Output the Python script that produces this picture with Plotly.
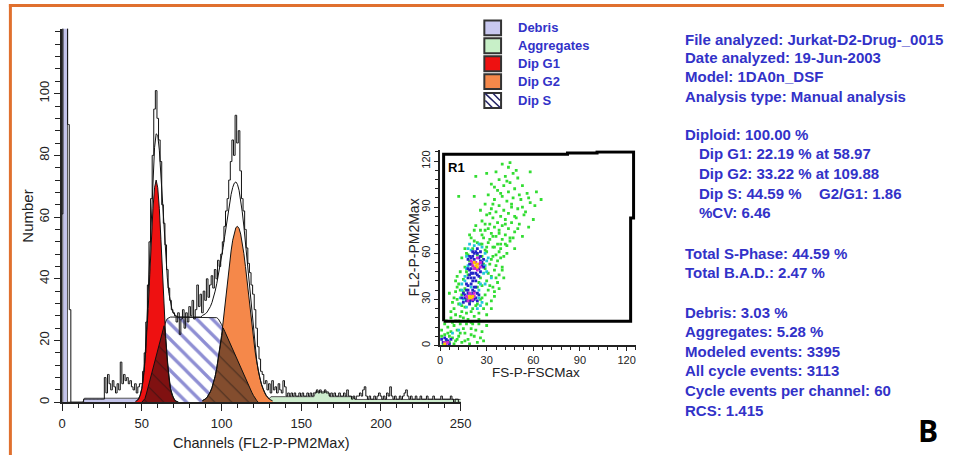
import plotly.graph_objects as go

W, H = 955, 457
def px(x): return x / W
def py(y): return 1 - y / H

# ---------------- histogram data (counts per channel 0..250) ----------------
channels = list(range(0, 251))
counts = [
    61, 140, 140, 140, 90, 30, 0, 0, 0, 0,
    0, 0, 0, 0, 1, 1, 1, 1, 1, 1,
    1, 1, 1, 1, 1, 1, 1, 8, 3, 9,
    6, 4, 7, 5, 3, 6, 4, 13, 6, 9,
    7, 8, 6, 7, 5, 4, 6, 3, 5, 6,
    6, 10, 16, 26, 38, 52, 66, 80, 95, 101,
    92, 85, 78, 64, 58, 51, 43, 37, 33, 30,
    29, 28, 26, 29, 22, 27, 30, 24, 29, 26,
    31, 28, 33, 27, 30, 38, 31, 35, 29, 36,
    33, 40, 34, 38, 41, 37, 43, 40, 46, 44,
    48, 52, 57, 62, 66, 72, 78, 85, 80, 93,
    84, 88, 75, 66, 62, 56, 50, 45, 42, 38,
    35, 30, 24, 18, 14, 10, 9, 6, 7, 4,
    6, 3, 7, 4, 5, 3, 6, 4, 3, 7,
    5, 2, 3, 2, 3, 2, 3, 2, 2, 3,
    2, 3, 2, 2, 3, 2, 3, 2, 3, 3,
    4, 3, 4, 3, 3, 4, 3, 3, 2, 3,
    2, 3, 2, 2, 3, 2, 2, 3, 2, 4,
    2, 2, 1, 2, 1, 2, 2, 3, 2, 4,
    5, 2, 1, 2, 1, 1, 2, 1, 2, 3,
    2, 1, 2, 1, 3, 2, 5, 2, 1, 2,
    1, 1, 2, 1, 2, 3, 4, 2, 1, 2,
    1, 1, 2, 1, 1, 2, 1, 1, 1, 2,
    1, 1, 1, 2, 1, 1, 1, 1, 2, 1,
    1, 1, 1, 1, 2, 1, 0, 1, 1, 0, 0,
]

# ---------------- model components ----------------
g1_ch = list(range(46, 74))
g1_val = [0.3, 0.5, 1.1, 2.3, 4.4, 7.8, 13.2, 20.7, 30.3, 41.4, 52.7, 62.7, 69.5, 72,
          69.5, 62.7, 52.7, 41.4, 30.3, 20.7, 13.2, 7.8, 4.4, 2.3, 1.1, 0.5, 0.2, 0]

s_ch = list(range(50, 124))
s_val = [0, 0.5, 1.2, 3, 5, 7, 9, 11, 13, 15, 17, 19, 21, 23, 24.8, 26.2, 27.1, 27.5,
         27.6, 27.6, 27.6, 27.6, 27.6, 27.6, 27.6, 27.6, 27.6, 27.6,
         27.6, 27.6, 27.6, 27.6, 27.6, 27.6, 27.6, 27.6, 27.6, 27.6,
         27.6, 27.6, 27.6, 27.6, 27.6, 27.6, 27.6, 27.6, 27.6,
         27.4, 27, 26.2, 25.2, 24.1, 23, 21.8, 20.7, 19.5, 18.3, 17.1, 16, 14.8,
         13.6, 12.4, 11.2, 10, 8.9, 7.7, 6.5, 5.4, 4.3, 3.2, 2.2, 1.3, 0.6, 0]

g2_ch = list(range(88, 133))
g2_val = [0.5, 0.75, 1.1, 1.65, 2.4, 3.4, 4.7, 6.3, 8.4, 11, 14.1, 17.6, 21.6,
          26, 30.8, 35.6, 40.5, 45, 49, 52.5, 55, 56.6, 57, 56.3, 54.5, 51.7, 48.2,
          44, 39.3, 34.5, 29.7, 25, 20.6, 16.7, 13.3, 10.3, 7.9, 5.9, 4.4, 3.1, 2.2,
          1.5, 1.0, 0.7, 0.45]

debris_x = [0.4, 0.4, 3.4, 3.4, 13, 14, 48, 50, 52]
debris_y = [0, 140, 140, 0, 0, 1.3, 1.3, 0.8, 0]

aggr_x = [128, 131, 158, 159, 167, 168, 182, 184, 250]
aggr_y = [0, 1.8, 1.8, 3.4, 3.4, 1.8, 1.8, 0.9, 0.9]

marker_ch = [37.5, 59, 109]
y_ticks = [0, 20, 40, 60, 80, 100]

assert len(counts) == len(channels)
assert len(g1_val) == len(g1_ch) and len(s_val) == len(s_ch) and len(g2_val) == len(g2_ch)

g1 = dict(zip(g1_ch, g1_val))
s = dict(zip(s_ch, s_val))
g2 = dict(zip(g2_ch, g2_val))
ov1_x = [c for c in s_ch if c in g1]
ov1_y = [min(g1[c], s[c]) for c in ov1_x]
ov2_x = [c for c in s_ch if c in g2]
ov2_y = [min(g2[c], s[c]) for c in ov2_x]
fit_x = list(range(47, 131))
fit_y = [g1.get(c, 0) + s.get(c, 0) + g2.get(c, 0) for c in fit_x]

# ---------------- inset scatter (FS vs FL2) ----------------
green_pts = [
    (40,118),(44,116),(36,113),(47,112),(42,110),(50,109),(38,108),(45,106),(33,105),(41,104),
    (53,104),(48,102),(37,101),(44,100),(56,99),(31,98),(40,97),(47,96),(35,95),(52,95),
    (43,94),(58,93),(29,92),(38,91),(46,90),(33,89),(50,89),(41,88),(36,87),(55,87),
    (44,86),(30,85),(39,84),(48,84),(34,83),(42,82),(60,82),(27,81),(37,80),(46,80),
    (32,79),(51,79),(40,78),(35,77),(44,76),(29,75),(38,75),(48,74),(33,73),(42,72),
    (36,71),(53,71),(28,70),(40,69),(45,68),(31,67),(37,66),(26,66),(43,65),(34,64),
    (39,63),(48,63),(29,62),(23,110),(62,100),(12,97),(58,113),(65,95),(57,77),(22,97),
    (49,83),(54,85),(30,112),(35,103),(26,88),
    (46,92),(51,98),(39,99),(43,107),(49,114),(45,119),(53,90),(57,96),(61,91),(34,92),
    (32,86),(42,79),(50,76),(47,70),(38,73),
    (12,16),(15,18),(10,20),(18,17),(22,19),(14,22),(20,22),(25,21),(9,24),(16,25),
    (28,24),(12,27),(23,26),(19,28),(30,27),(11,30),(26,30),(33,29),(14,33),(29,33),
    (35,32),(10,35),(31,36),(16,37),(34,38),(27,39),(12,40),(37,41),(30,42),(15,43),
    (33,45),(18,46),(38,46),(13,48),(35,49),(29,50),(16,51),(40,51),(32,53),(19,55),
    (37,55),(14,57),(34,58),(41,58),(17,60),(30,61),(38,61),(21,63),(35,64),(42,66),
    (24,67),(32,69),(20,70),(45,70),(27,72),(22,75),(17,30),(13,36),(35,35),(36,52),
    (31,47),(27,58),(8,28),(7,18),(24,38),(39,57),(11,45),(26,44),
    (13,19),(17,21),(21,24),(24,27),(27,31),(15,35),(32,39),(25,41),(36,44),(17,48),
    (28,53),(33,56),(18,59),(24,59),(36,59),(27,66),(30,64),(16,63),(39,66),(22,68),
    (34,71),(26,75),(31,76),(23,78),(29,79),(19,72),(43,60),(40,49),(11,38),(9,31),
    (14,26),(20,15),(25,17),(30,20),(33,24),(7,22),(6,34),(10,42),(38,37),(41,44),
    (2,1),(4,3),(6,2),(8,5),(3,7),(10,3),(12,6),(7,9),(14,2),(5,12),
    (16,8),(9,13),(18,4),(11,10),(13,14),(20,11),(15,11),(22,6),(24,2),(17,14),
    (8,15),(19,1),(26,5),(6,6),(1,10),(3,14),(21,14),(28,3),
    (1,6),(5,8),(9,1),(11,4),(13,8),(16,3),(20,7),(23,10),(27,9),(30,13),
    (25,14),(10,16),(4,16),
]
cyan_pts = [
    (17,25),(24,24),(15,30),(27,28),(20,38),(29,40),(16,45),(28,47),(22,50),(31,57),
    (20,62),(27,64),(18,52),(33,44),(12,10),(8,8),(25,36),(14,40),(29,60),(19,66),
    (13,31),(25,31),(14,36),(26,40),(17,50),(29,52),(30,48),(22,65),(25,66),(17,58),
    (13,27),(26,26),(16,42),(30,55),(18,63),
]
blue_pts = [
    (15,28),(17,29),(21,29),(23,31),(16,33),(22,35),(18,36),(24,34),(20,40),(23,42),
    (18,44),(25,45),(21,47),(26,48),(19,49),(23,51),(27,52),(20,53),(25,57),(21,58),
    (28,56),(22,60),(26,61),(18,56),(24,63),(17,40),(20,44),(22,38),(19,27),(26,55),
    (16,31),(20,30),(22,30),(18,34),(21,34),(19,29),(17,36),(21,36),(23,38),(19,46),
    (22,44),(24,46),(20,50),(22,56),(25,50),(27,54),(23,61),(21,61),(19,53),
    (15,34),(24,29),(14,31),(25,33),(18,39),(21,42),(20,47),(23,47),(18,50),(28,51),
    (19,58),(26,58),(24,60),(20,57),
    (2,2),(4,4),(6,1),(3,5),(5,3),(7,4),(1,4),
]
magenta_pts = [
    (18,31),(20,33),(21,30),(17,32),(22,32),(19,34),(18,29),(22,34),
    (21,52),(23,54),(25,53),(22,50),(24,49),(26,51),(20,55),(24,57),(23,50),(26,54),(21,54),
    (3,2),(5,2),(4,1),
]
yellow_pts = [(19,31),(20,31),(21,32),(19,32),(23,52),(24,53),(22,54),(24,51),(3,1)]

gate_x = [2.3, 2.3, 82, 82, 101, 101, 124.5, 124.5, 122.6, 122.6, 2.3]
gate_y = [15.8, 124.4, 124.4, 125.2, 125.2, 126, 126, 83, 83, 15.8, 15.8]

fig = go.Figure()
LW = 1.0
fig.add_trace(go.Scatter(x=debris_x, y=debris_y, mode='lines', fill='tozeroy',
                         fillcolor='#c4c4ea', line=dict(color='#555555', width=1)))
fig.add_trace(go.Scatter(x=aggr_x, y=aggr_y, mode='lines', fill='tozeroy',
                         fillcolor='#cdeccd', line=dict(color='#555555', width=1)))
fig.add_trace(go.Scatter(x=s_ch, y=s_val, mode='lines', fill='tozeroy',
                         fillpattern=dict(shape='\\', fgcolor='#1e1ea8', bgcolor='white',
                                          size=11, solidity=0.3),
                         line=dict(color='#222222', width=LW)))
fig.add_trace(go.Scatter(x=g1_ch, y=g1_val, mode='lines', fill='tozeroy',
                         fillcolor='#ee1111', line=dict(color='#111111', width=LW)))
fig.add_trace(go.Scatter(x=g2_ch, y=g2_val, mode='lines', fill='tozeroy',
                         fillcolor='#f5884a', line=dict(color='#111111', width=LW)))
for ox, oy in ((ov1_x, ov1_y), (ov2_x, ov2_y)):
    fig.add_trace(go.Scatter(x=ox, y=oy, mode='lines', fill='tozeroy',
                             fillpattern=dict(shape='\\', fgcolor='#111111', size=12, solidity=0.1),
                             line=dict(color='#111111', width=LW)))
fig.add_trace(go.Scatter(x=fit_x, y=fit_y, mode='lines', line=dict(color='#111111', width=1)))
fig.add_trace(go.Scatter(x=channels, y=counts, mode='lines', line_shape='hvh',
                         line=dict(color='#111111', width=1)))
fig.add_trace(go.Scatter(x=marker_ch, y=[-3.6] * len(marker_ch), mode='markers', cliponaxis=False,
                         marker=dict(symbol='triangle-up', size=15, color='black')))

for pts, col in ((green_pts, '#33dd33'), (cyan_pts, '#22c8d8'), (blue_pts, '#2424c8'),
                 (magenta_pts, '#d02ad0'), (yellow_pts, '#ffc800')):
    fig.add_trace(go.Scatter(x=[p[0] for p in pts], y=[p[1] for p in pts], mode='markers',
                             xaxis='x2', yaxis='y2',
                             marker=dict(symbol='square', size=2.8, color=col, line=dict(width=0))))
fig.add_trace(go.Scatter(x=gate_x, y=gate_y, mode='lines', xaxis='x2', yaxis='y2',
                         line=dict(color='black', width=3)))

tickfont = dict(family='Liberation Sans', size=13, color='#222222')
axcol = '#222222'
fig.update_layout(
    width=W, height=H, margin=dict(l=0, r=0, t=0, b=0),
    paper_bgcolor='white', plot_bgcolor='rgba(0,0,0,0)', showlegend=False,
    xaxis=dict(domain=[px(59), px(464)], range=[0, 250], anchor='y',
               showline=True, linecolor=axcol, linewidth=1.5, showgrid=False, zeroline=False,
               ticks='outside', ticklen=7, tickwidth=1.3, tickcolor=axcol, tick0=0, dtick=50,
               minor=dict(dtick=10, ticks='outside', ticklen=4, tickwidth=1.2, tickcolor=axcol),
               tickfont=tickfont, ticklabelstandoff=1),
    yaxis=dict(domain=[py(404), py(29)], range=[0, 121], anchor='x',
               showline=True, linecolor=axcol, linewidth=1.5, showgrid=False, zeroline=False,
               ticks='outside', ticklen=6, tickwidth=1.3, tickcolor=axcol,
               tickmode='array', tickvals=y_ticks,
               minor=dict(dtick=4, tick0=0, ticks='outside', ticklen=5, tickwidth=1.2, tickcolor=axcol),
               tickfont=tickfont, tickangle=-90),
    xaxis2=dict(domain=[px(443), px(642)], range=[0, 126], anchor='y2',
                showline=True, linecolor=axcol, linewidth=1.5, showgrid=False, zeroline=False,
                ticks='outside', ticklen=4, tickwidth=1.2, tickcolor=axcol, tick0=0, dtick=30,
                minor=dict(dtick=6, ticks='outside', ticklen=3, tickcolor=axcol),
                tickfont=dict(family='Liberation Sans', size=11, color='#222'), ticklabelstandoff=0),
    yaxis2=dict(domain=[py(347), py(151)], range=[0, 127], anchor='x2',
                showline=True, linecolor=axcol, linewidth=1.5, showgrid=False, zeroline=False,
                ticks='outside', ticklen=4, tickwidth=1.2, tickcolor=axcol, tick0=0, dtick=30,
                minor=dict(dtick=6, ticks='outside', ticklen=3, tickcolor=axcol),
                tickfont=dict(family='Liberation Sans', size=11, color='#222'), tickangle=-90),
)

ann = []
def txt(x, y, t, size=15, color='#3232c8', bold=True, anchor='left', angle=0, family='Liberation Sans'):
    ann.append(dict(x=px(x), y=py(y), xref='paper', yref='paper', text=(f'<b>{t}</b>' if bold else t),
                    showarrow=False, xanchor=anchor, yanchor='middle', textangle=angle,
                    font=dict(family=family, size=size, color=color)))

txt(23, 217, 'Number', size=15, color='#222', bold=False, anchor='center', angle=-90)
txt(261, 445, 'Channels (FL2-P-PM2Max)', size=14.5, color='#222', bold=False, anchor='center')
txt(416, 248, 'FL2-P-PM2Max', size=14, color='#222', bold=False, anchor='center', angle=-90)
txt(540, 374, 'FS-P-FSCMax', size=13.5, color='#222', bold=False, anchor='center')
txt(449, 168, 'R1', size=13, color='black', bold=True)

legend_items = ['Debris', 'Aggregates', 'Dip G1', 'Dip G2', 'Dip S']
legend_cols = ['#c8c8f0', '#c8f0c8', '#ee1111', '#f5884a', 'white']
legend_y = [28, 46, 64, 82, 101]
shapes = []
for name, col, yc in zip(legend_items, legend_cols, legend_y):
    shapes.append(dict(type='rect', xref='paper', yref='paper', x0=px(488), x1=px(505),
                       y0=py(yc + 7.5), y1=py(yc - 7.5), fillcolor=col,
                       line=dict(color='#333333', width=2)))
    txt(520, yc, name, size=13)
yc = legend_y[-1]
for (x0, y0, x1, y1) in ((489, yc - 7, 504, yc + 7), (489, yc, 496, yc + 7), (497, yc - 7, 504, yc)):
    shapes.append(dict(type='line', xref='paper', yref='paper', x0=px(x0), y0=py(y0),
                       x1=px(x1), y1=py(y1), line=dict(color='#222266', width=1.5)))

info = [
    (690, 40, 'File analyzed: Jurkat-D2-Drug-_0015'),
    (690, 58, 'Date analyzed: 19-Jun-2003'),
    (690, 77, 'Model: 1DA0n_DSF'),
    (690, 97, 'Analysis type: Manual analysis'),
    (690, 135, 'Diploid: 100.00 %'),
    (704, 154, 'Dip G1: 22.19 % at 58.97'),
    (704, 174, 'Dip G2: 33.22 % at 109.88'),
    (704, 194, 'Dip S: 44.59 %'),
    (826, 194, 'G2/G1: 1.86'),
    (704, 213, '%CV: 6.46'),
    (690, 255, 'Total S-Phase: 44.59 %'),
    (690, 274, 'Total B.A.D.: 2.47 %'),
    (690, 314, 'Debris: 3.03 %'),
    (690, 333, 'Aggregates: 5.28 %'),
    (690, 353, 'Modeled events: 3395'),
    (690, 372, 'All cycle events: 3113'),
    (690, 392, 'Cycle events per channel: 60'),
    (690, 412, 'RCS: 1.415'),
]
for x, y, t in info:
    txt(x, y, t, size=15)

txt(939, 432, 'B', size=30, color='black', anchor='center', family='Open Sans')

shapes.append(dict(type='line', xref='paper', yref='paper', x0=px(5), x1=1, y0=py(5.5), y1=py(5.5),
                   line=dict(color='#e0702e', width=3)))
shapes.append(dict(type='line', xref='paper', yref='paper', x0=px(6.5), x1=px(6.5), y0=py(4), y1=0,
                   line=dict(color='#e0702e', width=3)))

fig.update_layout(annotations=ann, shapes=shapes)

page_js = (
    "document.documentElement.style.margin='0';document.body.style.margin='0';"
    "document.body.style.padding='0';document.documentElement.style.overflow='hidden';"
    "document.body.style.overflow='hidden';"
)
fig.write_html('out.html', post_script=page_js)
